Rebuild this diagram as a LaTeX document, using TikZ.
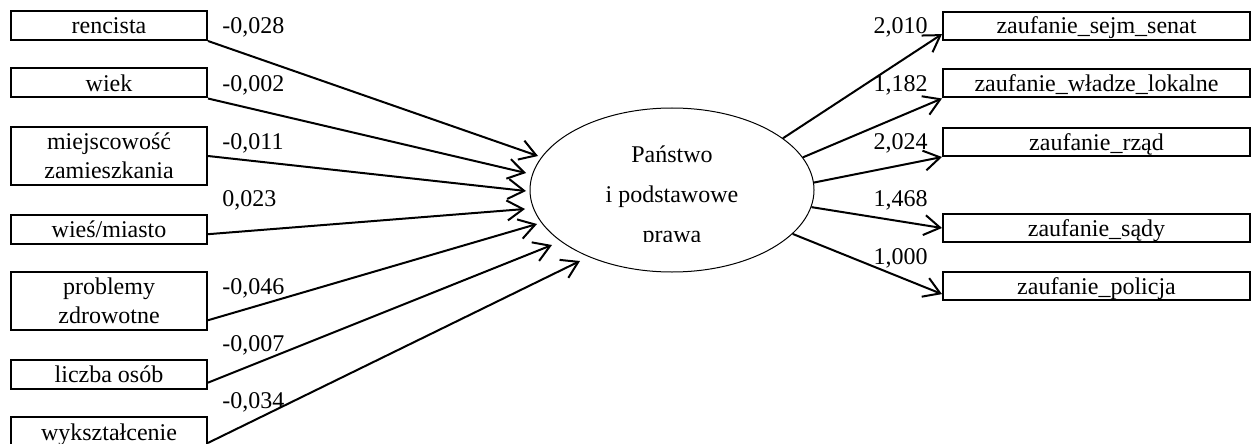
\documentclass[tikz,border=0pt]{standalone}
\usepackage{fontspec}
\setmainfont{Liberation Serif}
\usetikzlibrary{shapes.geometric,arrows.meta}

\begin{document}
\begin{tikzpicture}[x=0.5pt, y=-0.5pt,
    font=\fontsize{12}{14.5}\selectfont,
    box/.style={draw, line width=1pt, inner sep=0pt, align=center},
    var/.style={box, minimum width=98pt, minimum height=14.5pt,
      text height=8.5pt, text depth=0.5pt},
    var2/.style={box, minimum width=98pt, minimum height=29pt},
    ind/.style={box, minimum width=153.5pt, minimum height=14pt,
      text height=8.5pt, text depth=0.5pt},
    coef/.style={inner sep=0pt},
    path/.style={line width=1pt, -{Straight Barb[length=8pt,width=10pt]}}
  ]
    \useasboundingbox (0,0) rectangle (1252,444);

    % latent variable
    \node[draw, ellipse, line width=0.5pt, inner sep=0pt,
      minimum width=142pt, minimum height=82pt] (panstwo) at (672,190) {};
    \begin{scope}
      \clip (530,100) rectangle (815,241);
      \node[align=center, inner sep=0pt, anchor=north,
        font=\fontsize{12}{20}\selectfont] (nazwa) at (672,145)
        {Państwo\\i podstawowe\\prawa};
    \end{scope}

    % predictors
    \node[var] (rencista) at (109,25.5) {rencista};
    \node[var] (wiek) at (109,83) {wiek};
    \node[var2] (miejsce) at (109,156) {miejscowość\\zamieszkania};
    \node[var] (wies) at (109,229) {wieś/miasto};
    \node[var2] (zdrowie) at (109,301) {problemy\\zdrowotne};
    \node[var] (osoby) at (109,374) {liczba osób};
    \node[var, minimum height=15.5pt] (wyksztalcenie) at (109,432.5) {wykształcenie};

    \coordinate (in1) at (538,156);
    \coordinate (in2) at (526,173);
    \coordinate (in3) at (526,191);
    \coordinate (in4) at (525,209);
    \coordinate (in5) at (537,224);
    \coordinate (in6) at (552,245);
    \coordinate (in7) at (580,261);

    \draw[path] (rencista.south east) -- (in1);
    \draw[path] (wiek.south east) -- (in2);
    \draw[path] (miejsce.east) -- (in3);
    \draw[path] (wies.-3) -- (in4);
    \draw[path] (zdrowie.-11) -- (in5);
    \draw[path] (osoby.-5) -- (in6);
    \draw[path] (wyksztalcenie.-6) -- (in7);

    \node[coef, anchor=west] (b1) at (222,27) {-0,028};
    \node[coef, anchor=west] (b2) at (222,85) {-0,002};
    \node[coef, anchor=west] (b3) at (222,143) {-0,011};
    \node[coef, anchor=west] (b4) at (222,200) {0,023};
    \node[coef, anchor=west] (b5) at (222,288) {-0,046};
    \node[coef, anchor=west] (b6) at (222,345) {-0,007};
    \node[coef, anchor=west] (b7) at (222,402) {-0,034};

    % indicators
    \node[ind] (sejm) at (1096.5,26) {zaufanie\_sejm\_senat};
    \node[ind] (wladze) at (1096.5,83.5) {zaufanie\_władze\_lokalne};
    \node[ind] (rzad) at (1096.5,142) {zaufanie\_rząd};
    \node[ind] (sady) at (1096.5,228) {zaufanie\_sądy};
    \node[ind] (policja) at (1096.5,286) {zaufanie\_policja};

    \draw[path] (panstwo.25) -- (sejm.183);
    \draw[path] (panstwo.14) -- (wladze.south west);
    \draw[path] (panstwo.3) -- (rzad.south west);
    \draw[path] (panstwo.-7) -- (sady.west);
    \draw[path] (panstwo.-20) -- (policja.183.4);

    \node[coef, anchor=east] (l1) at (928,27) {2,010};
    \node[coef, anchor=east] (l2) at (928,85) {1,182};
    \node[coef, anchor=east] (l3) at (928,143) {2,024};
    \node[coef, anchor=east] (l4) at (928,200) {1,468};
    \node[coef, anchor=east] (l5) at (928,258) {1,000};
\end{tikzpicture}
\end{document}
